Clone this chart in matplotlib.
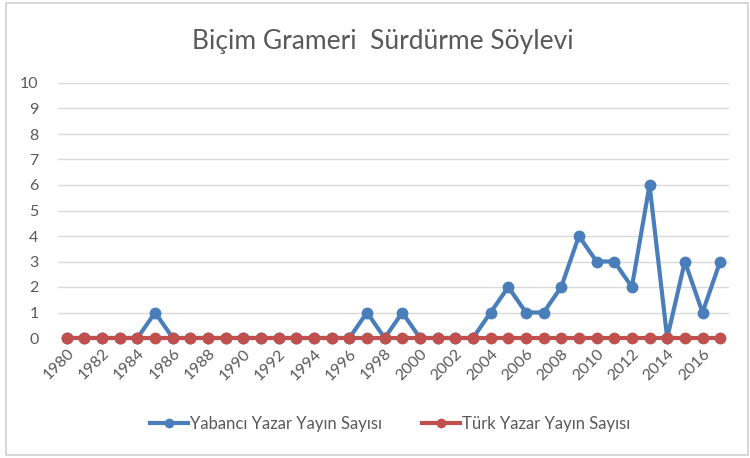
import matplotlib
matplotlib.use("Agg")
import matplotlib.pyplot as plt
from matplotlib.patches import Rectangle

years = list(range(1980, 2018))
yabanci = [0, 0, 0, 0, 0, 1, 0, 0, 0, 0,
           0, 0, 0, 0, 0, 0, 0, 1, 0, 1,
           0, 0, 0, 0, 1, 2, 1, 1, 2, 4,
           3, 3, 2, 6, 0, 3, 1, 3]
turk = [0] * len(years)
tick_years = list(range(1980, 2017, 2))

title = "Biçim Grameri  Sürdürme Söylevi"
label_yabanci = "Yabancı Yazar Yayın Sayısı"
label_turk = "Türk Yazar Yayın Sayısı"

blue = "#4a7ebb"
red = "#c0504d"
grey_txt = "#595959"

plt.rcParams['font.family'] = ['Lato', 'DejaVu Sans']

fig = plt.figure(figsize=(7.5, 4.58), dpi=100)
fig.patches.append(Rectangle((6 / 750, 3 / 458), 742 / 750, 452 / 458, transform=fig.transFigure,
                             fill=False, edgecolor="#d0d0d0", linewidth=1.2))
ax = fig.add_axes([58 / 750, 1 - 338 / 458, 671 / 750, 255 / 458])

x = list(range(len(years)))
ax.plot(x, yabanci, color=blue, lw=3, marker="o", ms=7.5, label=label_yabanci, zorder=3)
ax.plot(x, turk, color=red, lw=3, marker="o", ms=7.5, label=label_turk, zorder=4)

ax.set_xlim(-0.5, len(years) - 0.5)
ax.set_ylim(0, 10)
ax.set_yticks(range(0, 11))
ax.set_xticks([years.index(y) for y in tick_years])
ax.set_xticklabels([str(y) for y in tick_years], rotation=45, ha="right", rotation_mode="anchor")
ax.tick_params(axis="both", length=0, colors=grey_txt, labelsize=11.5)
ax.tick_params(axis="y", pad=14)
ax.tick_params(axis="x", pad=6)
ax.grid(axis="y", color="#d9d9d9", lw=1)
ax.set_axisbelow(True)
for s in ax.spines.values():
    s.set_visible(False)
for ln in ax.lines:
    ln.set_clip_on(False)

fig.text(383 / 750, 1 - 42 / 458, title, ha="center", va="center", fontsize=19, color=grey_txt)

fig.legend(loc="center", bbox_to_anchor=(390 / 750, 1 - 424 / 458), ncol=2, frameon=False,
           fontsize=12, labelcolor=grey_txt, handlelength=2.3, columnspacing=2.4, handletextpad=0.1,
           markerscale=0.8)

fig.savefig("out.png", dpi=100)
